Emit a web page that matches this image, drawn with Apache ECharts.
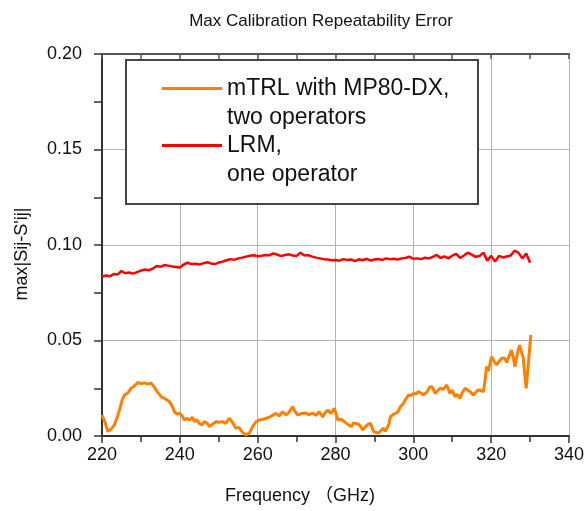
<!DOCTYPE html>
<html><head><meta charset="utf-8">
<script src="https://cdn.jsdelivr.net/npm/echarts@6/dist/echarts.min.js"></script>
<style>html,body{margin:0;padding:0;background:#fff}#c{width:587px;height:511px}</style>
</head><body><div id="c"></div>
<script>
const chartTitle = 'Max Calibration Repeatability Error';
const xName = 'Frequency （GHz)';
const yName = "max|Sij-S'ij|";
const seriesNames = ['mTRL with MP80-DX,\ntwo operators', 'LRM,\none operator'];
const xTicks = [220, 240, 260, 280, 300, 320, 340];
const yTicks = [0.00, 0.05, 0.10, 0.15, 0.20];

const orangeFreq = [220,220.7,221.5,222.3,223.2,224,224.5,225.2,225.8,226.6,227.5,228.3,229.2,230,230.9,231.7,232.6,233.3,233.9,234.6,235.2,236.2,237.3,238,238.6,239.3,239.9,240.6,241.2,241.9,242.5,243.2,243.8,244.4,245,245.7,246.3,247,247.6,248.4,249.3,250.1,251,251.8,252.7,253.5,254.4,255.2,256,257,257.9,258.7,259.6,260.5,261.3,262.2,263,263.8,264.7,265.5,266.4,267.3,268.1,269,269.6,270.3,271.3,272.4,273.2,274.1,275,275.8,276.7,277.3,278,278.8,279.7,280.6,281.4,282.3,283.1,284,284.6,285.3,286.2,287,287.7,288.4,289,289.8,290.5,291.1,291.8,292.4,292.8,293.2,293.7,294.1,294.8,295.4,296,296.7,297.3,297.9,298.4,298.8,299.4,300.1,300.7,301.3,302,302.6,303.4,304.3,304.9,305.6,306.3,306.9,307.7,308.6,309.4,310,310.7,311.3,312,312.6,313.3,314,314.6,315.4,316,316.7,317.4,318,318.5,318.8,319.3,319.7,320.1,320.8,321.4,322,322.7,323.5,324,324.4,325.2,325.7,326.1,326.7,327.3,327.8,328.2,328.6,329,330.2];
const orangeVal = [0.011,0.0075,0.0023,0.0035,0.0058,0.0105,0.0136,0.019,0.0215,0.0225,0.025,0.0262,0.028,0.0274,0.0278,0.0272,0.0277,0.026,0.024,0.0222,0.0206,0.0195,0.018,0.0158,0.0127,0.0115,0.0119,0.0105,0.0084,0.0092,0.0084,0.0098,0.0075,0.0085,0.0066,0.0058,0.0075,0.0068,0.0049,0.0062,0.0075,0.0072,0.0075,0.0066,0.0093,0.0072,0.004,0.0045,0.0022,0.0005,0.0016,0.0049,0.0075,0.0084,0.0088,0.0093,0.0098,0.0108,0.0119,0.0105,0.0127,0.011,0.0125,0.0154,0.0128,0.011,0.0118,0.012,0.0112,0.012,0.0108,0.0127,0.01,0.0122,0.0136,0.0118,0.0145,0.0084,0.0088,0.0075,0.0062,0.0049,0.0068,0.0066,0.0058,0.0031,0.0049,0.0062,0.0066,0.0023,0.0018,0.0015,0.0032,0.004,0.0025,0.0015,0.006,0.0101,0.0112,0.0119,0.0125,0.0154,0.0165,0.0188,0.0198,0.0215,0.0212,0.0223,0.022,0.0232,0.0225,0.0215,0.0228,0.0258,0.0255,0.0223,0.0238,0.025,0.0245,0.0267,0.0223,0.024,0.0206,0.0218,0.0197,0.0228,0.025,0.024,0.0232,0.0215,0.0228,0.0241,0.0238,0.0232,0.03,0.0363,0.034,0.0346,0.0415,0.039,0.0372,0.039,0.0407,0.0407,0.0385,0.039,0.045,0.041,0.0363,0.043,0.0476,0.044,0.0415,0.033,0.025,0.0529];

const redFreq = [220,221,222,223,224,225,226,227,228,229,230,231,232,233,234,235,236,237,238,239,240,241,242,243,244,245,246,247,248,249,250,251,252,253,254,255,256,257,258,259,260,261,262,263,264,265,266,267,268,269,270,271,272,273,274,275,276,277,278,279,280,281,282,283,284,285,286,287,288,289,290,291,292,293,294,295,296,297,298,299,300,301,302,303,304,305,306,307,308,309,310,311,312,313,314,315,316,317,318,319,320,321,322,323,324,325,326,327,328,329,330];
const redVal = [0.0834,0.0840,0.0836,0.0848,0.0845,0.0864,0.0852,0.0856,0.0850,0.0858,0.0866,0.0872,0.0868,0.0876,0.0890,0.0886,0.0895,0.0892,0.0888,0.0885,0.0882,0.0898,0.0907,0.0900,0.0902,0.0898,0.0904,0.0910,0.0903,0.0900,0.0908,0.0913,0.0920,0.0926,0.0922,0.0930,0.0934,0.0939,0.0944,0.0946,0.0941,0.0944,0.0948,0.0946,0.0956,0.0950,0.0942,0.0948,0.0951,0.0945,0.0943,0.0960,0.0945,0.0947,0.0939,0.0934,0.0930,0.0926,0.0924,0.0920,0.0921,0.0918,0.0926,0.0922,0.0924,0.0916,0.0925,0.0920,0.0928,0.0918,0.0924,0.0927,0.0922,0.0930,0.0926,0.0928,0.0924,0.0930,0.0932,0.0939,0.0928,0.0930,0.0926,0.0933,0.0930,0.0938,0.0948,0.0932,0.0940,0.0930,0.0944,0.0953,0.0932,0.0945,0.0960,0.0950,0.0938,0.0942,0.0960,0.0918,0.0943,0.0913,0.0943,0.0935,0.0940,0.0945,0.0970,0.0960,0.0930,0.0955,0.0907];

const FONT = '"Liberation Sans", Arial, "Noto Sans CJK SC", sans-serif';
const axisColor = '#333333';
const gridColor = '#b4b4b4';

const chart = echarts.init(document.getElementById('c'), null, {renderer: 'canvas'});
chart.setOption({
  backgroundColor: '#ffffff',
  animation: false,
  title: {
    text: chartTitle, left: 316, top: 8, textAlign: 'center',
    textStyle: {fontFamily: FONT, fontSize: 17, fontWeight: 'normal', color: '#111'}
  },
  grid: {left: 102, right: 16, top: 54, bottom: 75, containLabel: false},
  legend: [
    {data: [seriesNames[0]], left: 162, top: 45, padding: 0, orient: 'vertical', icon: 'rect', itemWidth: 60, itemHeight: 3, itemGap: 6, z: 20,
     textStyle: {fontFamily: FONT, fontSize: 23, color: '#111', lineHeight: 29}, formatter: n => ' \n' + n},
    {data: [seriesNames[1]], left: 162, top: 102, padding: 0, orient: 'vertical', icon: 'rect', itemWidth: 60, itemHeight: 3, itemGap: 6, z: 20,
     textStyle: {fontFamily: FONT, fontSize: 23, color: '#111', lineHeight: 29}, formatter: n => ' \n' + n}
  ],
  xAxis: [{
    type: 'value', min: 220, max: 340, interval: 20, position: 'bottom',
    axisLine: {show: true, lineStyle: {color: axisColor, width: 2}},
    axisTick: {show: true, inside: false, length: 7, lineStyle: {color: axisColor, width: 1.5}},
    minorTick: {show: true, splitNumber: 2, length: 6, lineStyle: {color: axisColor, width: 1.5}},
    axisLabel: {margin: 10, fontFamily: FONT, fontSize: 18, color: '#111', formatter: v => xTicks.includes(v) ? String(v) : ''},
    splitLine: {show: true, lineStyle: {color: gridColor, width: 1}}
  }, {
    type: 'value', min: 220, max: 340, interval: 10, position: 'top',
    axisLine: {show: true, lineStyle: {color: '#555', width: 2}},
    axisTick: {show: true, inside: true, length: 5, lineStyle: {color: '#555', width: 1.5}},
    axisLabel: {show: false}, splitLine: {show: false}
  }],
  yAxis: [{
    type: 'value', min: 0, max: 0.2, interval: 0.05,
    axisLine: {show: true, lineStyle: {color: axisColor, width: 2}},
    axisTick: {show: true, inside: false, length: 8, lineStyle: {color: axisColor, width: 1.5}},
    minorTick: {show: true, splitNumber: 2, length: 8, lineStyle: {color: axisColor, width: 1.5}},
    axisLabel: {margin: 20, fontFamily: FONT, fontSize: 18, color: '#111',
      formatter: v => { const t = yTicks.find(y => Math.abs(y - v) < 1e-9); return t === undefined ? '' : t.toFixed(2); }},
    splitLine: {show: true, lineStyle: {color: gridColor, width: 1}}
  }],
  series: [
    {name: seriesNames[0], type: 'line', xAxisIndex: 0, showSymbol: false, symbol: 'none',
     data: orangeFreq.map((f, i) => [f, orangeVal[i]]), lineStyle: {color: '#ff8000', width: 3}, itemStyle: {color: '#ff8000'}, z: 3},
    {name: seriesNames[1], type: 'line', xAxisIndex: 0, showSymbol: false, symbol: 'none',
     data: redFreq.map((f, i) => [f, redVal[i]]), lineStyle: {color: '#ff0000', width: 2.5}, itemStyle: {color: '#ff0000'}, z: 4}
  ],
  graphic: [
    {type: 'rect', z: 1, shape: {x: 126, y: 60, width: 352, height: 144},
     style: {fill: '#ffffff', stroke: '#444', lineWidth: 2}, silent: true},
    {type: 'text', x: 300, y: 496, z: 20,
     style: {text: xName, font: '18px ' + FONT, fill: '#111', align: 'center', verticalAlign: 'middle'}},
    {type: 'text', x: 22, y: 254, rotation: Math.PI / 2, z: 20,
     style: {text: yName, font: '18px ' + FONT, fill: '#111', align: 'center', verticalAlign: 'middle'}}
  ]
});
</script></body></html>
